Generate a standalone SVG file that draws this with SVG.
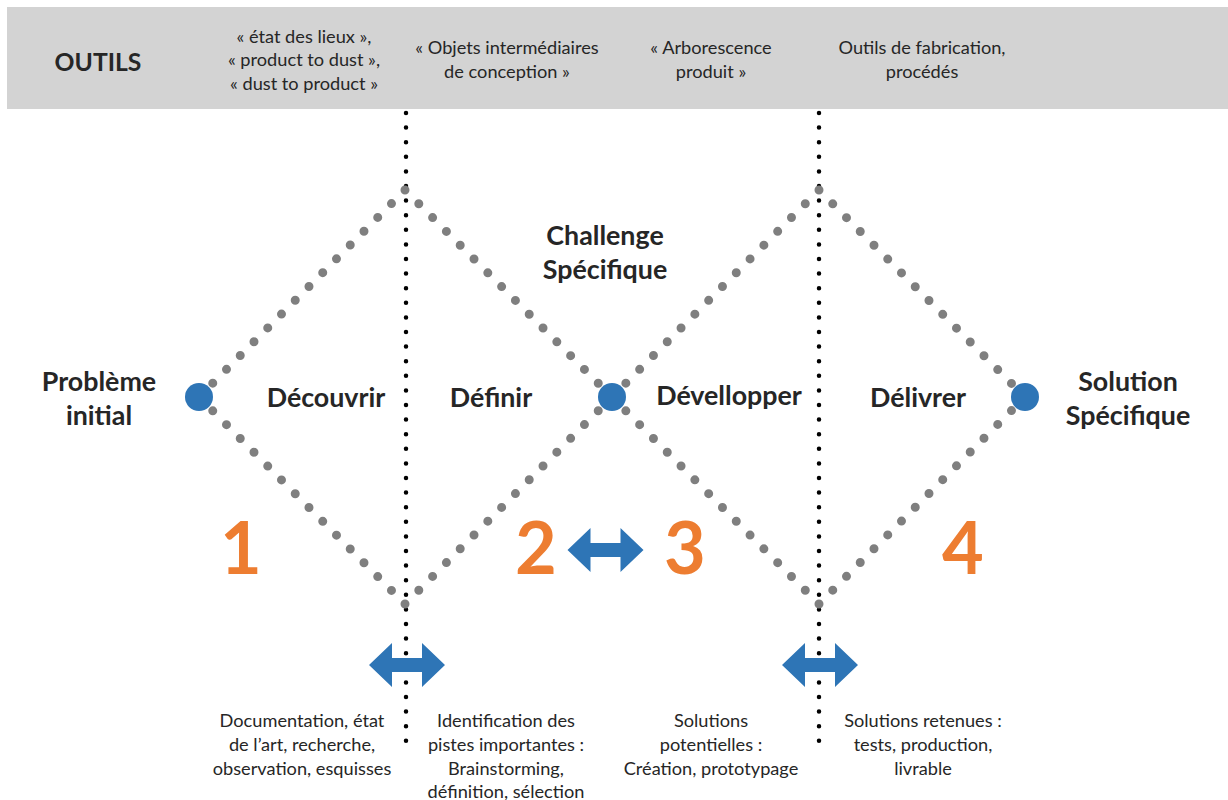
<svg xmlns="http://www.w3.org/2000/svg" xmlns:xlink="http://www.w3.org/1999/xlink" width="1228" height="800" viewBox="0 0 1228 800">
<style>
text{font-family:Lato,"Open Sans","Liberation Sans",sans-serif;fill:#262626;text-anchor:middle}
.tool{font-size:18.2px}
.desc{font-size:18.2px}
.lbl{font-size:26.8px;font-weight:bold}
.num{font-size:72px;font-weight:bold;fill:#ED7D31}
.gdot{stroke:#7f7f7f;stroke-width:9;stroke-linecap:round;fill:none}
.bdot{stroke:#000;stroke-width:4.5;stroke-linecap:round;fill:none;stroke-dasharray:0 14.6}
.node{fill:#2E75B6}
.arrow{fill:#2E75B6}
</style>
<defs>
<path id="dbl" d="M-38,0 L-15,-22 L-15,-7 L15,-7 L15,-22 L38,0 L15,22 L15,7 L-15,7 L-15,22 Z"/>
</defs>
<rect id="band" x="7" y="7" width="1221" height="102" fill="#d3d3d3"/>
<g id="tools">
<text class="lbl" x="98" y="71" style="font-size:24.7px">OUTILS</text>
<text class="tool" x="304" y="43">« état des lieux »,</text>
<text class="tool" x="304" y="66">« product to dust »,</text>
<text class="tool" x="304" y="90">« dust to product »</text>
<text class="tool" x="507" y="54">« Objets intermédiaires</text>
<text class="tool" x="507" y="78">de conception »</text>
<text class="tool" x="711" y="54">« Arborescence</text>
<text class="tool" x="711" y="78">produit »</text>
<text class="tool" x="922" y="54">Outils de fabrication,</text>
<text class="tool" x="922" y="78">procédés</text>
</g>
<g id="connectors">
<line class="bdot" x1="406" y1="113" x2="406" y2="755"/>
<line class="bdot" x1="819" y1="113" x2="819" y2="750"/>
<line class="gdot" style="stroke-dasharray:0 19.49" x1="199" y1="397" x2="405" y2="190"/>
<line class="gdot" style="stroke-dasharray:0 19.49" x1="199" y1="397" x2="405" y2="604"/>
<line class="gdot" style="stroke-dasharray:0 19.52" x1="405" y1="190" x2="819" y2="604"/>
<line class="gdot" style="stroke-dasharray:0 19.52" x1="405" y1="604" x2="819" y2="190"/>
<line class="gdot" style="stroke-dasharray:0 19.49" x1="819" y1="190" x2="1025" y2="397"/>
<line class="gdot" style="stroke-dasharray:0 19.49" x1="819" y1="604" x2="1025" y2="397"/>
<use class="arrow" xlink:href="#dbl" href="#dbl" transform="translate(605.5,550)"/>
<use class="arrow" xlink:href="#dbl" href="#dbl" transform="translate(407,665)"/>
<use class="arrow" xlink:href="#dbl" href="#dbl" transform="translate(820,665)"/>
</g>
<g id="start"><circle class="node" cx="199" cy="397" r="14"/></g>
<g id="challenge"><circle class="node" cx="612" cy="397" r="14"/></g>
<g id="end"><circle class="node" cx="1025" cy="397" r="14"/></g>
<g id="labels">
<text class="lbl" x="99" y="391">Problème</text>
<text class="lbl" x="99" y="425">initial</text>
<text class="lbl" x="605" y="245">Challenge</text>
<text class="lbl" x="605" y="279">Spécifique</text>
<text class="lbl" x="1128" y="391">Solution</text>
<text class="lbl" x="1128" y="425">Spécifique</text>
<text class="lbl" x="326" y="407">Découvrir</text>
<text class="lbl" x="491" y="407">Définir</text>
<text class="lbl" x="729" y="405">Dévellopper</text>
<text class="lbl" x="918" y="407">Délivrer</text>
</g>
<g id="numbers">
<text class="num" x="241" y="574">1</text>
<text class="num" x="536" y="574">2</text>
<text class="num" x="685" y="574">3</text>
<text class="num" x="963" y="574">4</text>
</g>
<g id="descriptions">
<text class="desc" x="302" y="727">Documentation, état</text>
<text class="desc" x="302" y="751">de l’art, recherche,</text>
<text class="desc" x="302" y="775">observation, esquisses</text>
<text class="desc" x="506" y="727">Identification des</text>
<text class="desc" x="506" y="751">pistes importantes :</text>
<text class="desc" x="506" y="775">Brainstorming,</text>
<text class="desc" x="506" y="798">définition, sélection</text>
<text class="desc" x="711" y="727">Solutions</text>
<text class="desc" x="711" y="751">potentielles :</text>
<text class="desc" x="711" y="775">Création, prototypage</text>
<text class="desc" x="923" y="727">Solutions retenues :</text>
<text class="desc" x="923" y="751">tests, production,</text>
<text class="desc" x="923" y="775">livrable</text>
</g>
</svg>
